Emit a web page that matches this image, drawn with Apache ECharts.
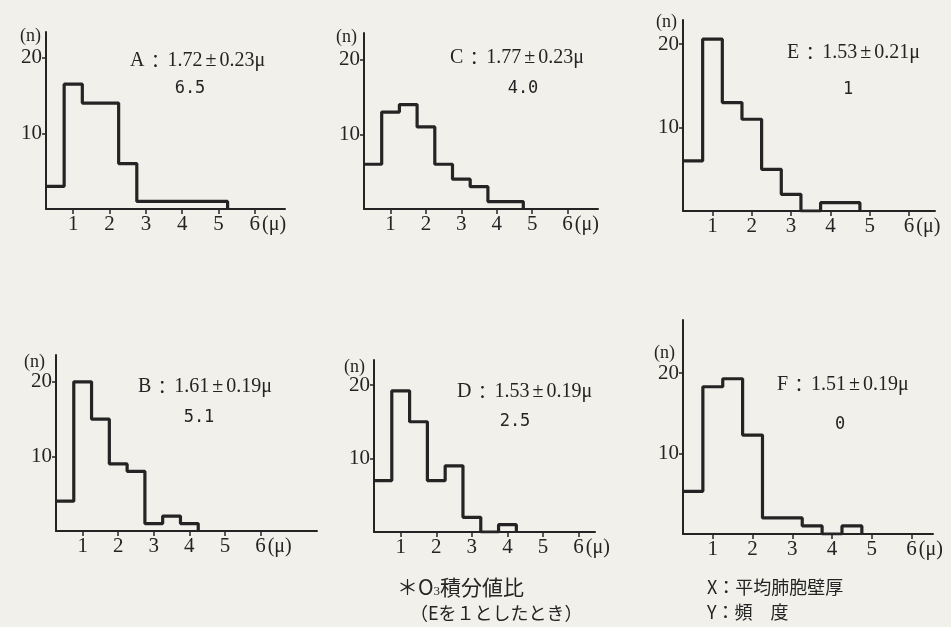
<!DOCTYPE html>
<html lang="ja">
  <head>
    <meta charset="UTF-8" />
    <title>平均肺胞壁厚の分布</title>
    <script src="https://cdn.jsdelivr.net/npm/echarts/dist/echarts.min.js"></script>
    <style>
      html, body { margin: 0; padding: 0; background: #f1f0eb; }
      #main { width: 951px; height: 627px; }
    </style>
  </head>
  <body>
    <div id="main"></div>
    <script>
      // 群ごとのデータ (上段 A, C, E / 下段 B, D, F)
      const panelNames = ["A", "C", "E", "B", "D", "F"]
      const meanWall = ["1.72", "1.77", "1.53", "1.61", "1.53", "1.51"]
      const sdWall = ["0.23", "0.23", "0.21", "0.19", "0.19", "0.19"]
      const o3Ratio = ["6.5", "4.0", "1", "5.1", "2.5", "0"]

      // 階級の境界 (μ) 0.5μ 幅
      const binEdges = [0.25, 0.75, 1.25, 1.75, 2.25, 2.75, 3.25, 3.75, 4.25, 4.75, 5.25]

      const countsA = [3, 16.5, 14, 14, 6, 1, 1, 1, 1, 1]
      const countsC = [6, 13, 14, 11, 6, 4, 3, 1, 1]
      const countsE = [6, 20.6, 13, 11, 5, 2, 0, 1, 1]
      const countsB = [4, 20, 15, 9, 8, 1, 2, 1]
      const countsD = [7, 19.2, 15, 7, 9, 2, 0, 1]
      const countsF = [5.3, 18.3, 19.3, 12.3, 2, 2, 1, 0, 1]
      const allCounts = [countsA, countsC, countsE, countsB, countsD, countsF]

      const xTicks = [1, 2, 3, 4, 5, 6]
      const yTicks = [10, 20]

      // 各パネルの配置
      const layout = [
        { left: 46, top: 32, width: 239, height: 177, xMax: 6.83, yMax: 23.4, stat: [130, 61], ratio: [190, 89], n: [41, 36] },
        { left: 364, top: 33, width: 234, height: 176, xMax: 6.86, yMax: 23.6, stat: [450, 58], ratio: [523, 89], n: [357, 37] },
        { left: 683, top: 20, width: 252, height: 191, xMax: 6.66, yMax: 22.9, stat: [787, 53], ratio: [848, 90], n: [677, 22] },
        { left: 56, top: 355, width: 261, height: 176, xMax: 7.59, yMax: 23.6, stat: [138, 387], ratio: [199, 418], n: [45, 362] },
        { left: 374, top: 360, width: 221, height: 172, xMax: 6.46, yMax: 23.4, stat: [457, 392], ratio: [515, 422], n: [365, 367] },
        { left: 683, top: 320, width: 250, height: 214, xMax: 6.54, yMax: 26.6, stat: [777, 385], ratio: [840, 425], n: [675, 353] },
      ]

      const ink = "#242424"
      const serif = "'Liberation Serif', 'DejaVu Serif', serif"
      const mono = "'DejaVu Sans Mono', monospace"
      const cjk = "'Noto Sans CJK JP', sans-serif"

      const grids = [], xAxes = [], yAxes = [], series = [], graphics = []

      layout.forEach((g, i) => {
        grids.push({ left: g.left, top: g.top, width: g.width, height: g.height })
        xAxes.push({
          type: "value",
          gridIndex: i,
          min: 0.25,
          max: g.xMax,
          splitLine: { show: false },
          axisLine: { lineStyle: { color: ink, width: 2 } },
          axisTick: { customValues: xTicks, length: 5, lineStyle: { color: ink, width: 1.5 } },
          axisLabel: {
            customValues: xTicks,
            margin: 5,
            color: ink,
            fontFamily: serif,
            fontSize: 21,
            formatter: (v) => (v === 6 ? "{s|}6{u|(μ)}" : String(v)),
            rich: {
              s: { width: 26 },
              u: { fontFamily: serif, fontSize: 20, color: ink, padding: [0, 0, 0, 2] },
            },
          },
        })
        yAxes.push({
          type: "value",
          gridIndex: i,
          min: 0,
          max: g.yMax,
          splitLine: { show: false },
          axisLine: { show: true, lineStyle: { color: ink, width: 2 } },
          axisTick: { show: true, customValues: yTicks, length: 4, lineStyle: { color: ink, width: 1.5 } },
          axisLabel: { customValues: yTicks, margin: 4, color: ink, fontFamily: serif, fontSize: 21 },
        })

        // 度数分布を階段線で描く
        const counts = allCounts[i]
        const pts = counts.map((c, k) => [binEdges[k], c])
        pts.push([binEdges[counts.length], 0])
        series.push({
          type: "line",
          xAxisIndex: i,
          yAxisIndex: i,
          step: "end",
          data: pts,
          showSymbol: false,
          silent: true,
          lineStyle: { color: ink, width: 3.2 },
        })

        graphics.push({
          type: "text",
          style: {
            x: g.stat[0],
            y: g.stat[1],
            textVerticalAlign: "middle",
            text: `{a|${panelNames[i]}}{c|：}{n|${meanWall[i]}}{p|±}{n|${sdWall[i]}}{m|μ}`,
            rich: {
              a: { fontFamily: serif, fontSize: 20, fill: ink },
              c: { fontFamily: cjk, fontSize: 18, fill: ink, padding: [0, 3, 0, 2] },
              n: { fontFamily: serif, fontSize: 20, fill: ink },
              p: { fontFamily: serif, fontSize: 20, fill: ink, padding: [0, 3, 0, 3] },
              m: { fontFamily: serif, fontSize: 20, fill: ink },
            },
          },
        })
        graphics.push({
          type: "text",
          style: {
            x: g.ratio[0],
            y: g.ratio[1],
            textAlign: "center",
            textVerticalAlign: "middle",
            text: o3Ratio[i],
            font: `17px ${mono}`,
            fill: ink,
          },
        })
        graphics.push({
          type: "text",
          style: {
            x: g.n[0],
            y: g.n[1],
            textAlign: "right",
            textVerticalAlign: "middle",
            text: "(n)",
            font: `18px ${serif}`,
            fill: ink,
          },
        })
      })

      // 注記
      graphics.push(
        {
          type: "text",
          style: {
            x: 397, y: 587, textVerticalAlign: "middle",
            text: "{t|＊O}{s|3}{t|積分値比}",
            rich: {
              t: { fontFamily: cjk, fontSize: 21, fill: ink },
              s: { fontFamily: serif, fontSize: 13, fill: ink, padding: [9, 0, 0, 0] },
            },
          },
        },
        {
          type: "text",
          style: { x: 410, y: 613, textVerticalAlign: "middle", text: "（Eを１としたとき）", font: `18px ${cjk}`, fill: ink },
        },
        {
          type: "text",
          style: { x: 707, y: 587, textVerticalAlign: "middle", text: "X：平均肺胞壁厚", font: `18px ${cjk}`, fill: ink },
        },
        {
          type: "text",
          style: { x: 707, y: 612, textVerticalAlign: "middle", text: "Y：頻　度", font: `18px ${cjk}`, fill: ink },
        }
      )

      const chart = echarts.init(document.getElementById("main"))
      chart.setOption({
        backgroundColor: "#f1f0eb",
        animation: false,
        grid: grids,
        xAxis: xAxes,
        yAxis: yAxes,
        series: series,
        graphic: graphics,
      })
    </script>
  </body>
</html>
